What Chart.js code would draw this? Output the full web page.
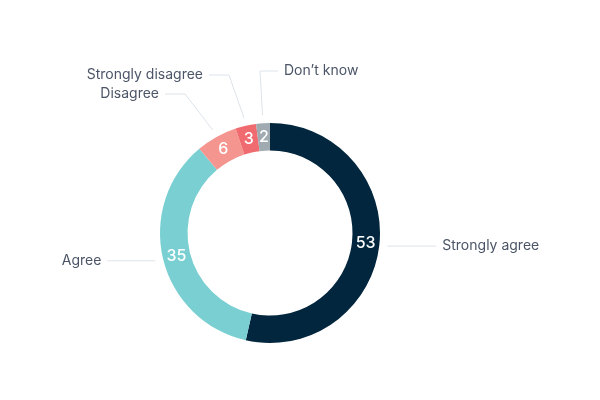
<!DOCTYPE html>
<html>
<head>
<meta charset="utf-8">
<script src="https://cdn.jsdelivr.net/npm/chart.js@4"></script>
<style>
  html, body { margin: 0; padding: 0; background: #ffffff; }
  #wrap { width: 600px; height: 400px; }
</style>
</head>
<body>
<div id="wrap"><canvas id="chartRespostas"></canvas></div>
<script>
const categorias = ['Strongly agree', 'Agree', 'Disagree', 'Strongly disagree', 'Don\u2019t know'];
const valores = [53, 35, 6, 3, 2];
const cores = ['#02263d', '#79cfd1', '#f4958f', '#ef6b6f', '#a0aab1'];

// Onde cada linha de chamada dobra (relativo ao centro) e para que lado segue
const chamadas = [
    { cotovelo: null, lado: 1, comprimento: 49 },
    { cotovelo: null, lado: -1, comprimento: 48 },
    { cotovelo: [-85, -139], lado: -1, comprimento: 20 },
    { cotovelo: [-41, -158], lado: -1, comprimento: 20 },
    { cotovelo: [-10, -162], lado: 1, comprimento: 18 }
];

const rotulosPlugin = {
    id: 'rotulos',
    afterDatasetsDraw(chart) {
        const ctx = chart.ctx;
        const meta = chart.getDatasetMeta(0);
        ctx.save();
        meta.data.forEach((arc, i) => {
            const p = arc.getProps(['x', 'y', 'startAngle', 'endAngle', 'innerRadius', 'outerRadius'], true);
            const meio = (p.startAngle + p.endAngle) / 2;
            const cos = Math.cos(meio), sin = Math.sin(meio);

            // valor dentro do anel
            const rm = (p.innerRadius + p.outerRadius) / 2;
            ctx.fillStyle = '#ffffff';
            ctx.font = '500 16px Inter, sans-serif';
            ctx.textAlign = 'center';
            ctx.textBaseline = 'middle';
            ctx.fillText(valores[i], p.x + rm * cos, p.y + rm * sin);

            // linha de chamada
            const c = chamadas[i];
            const x0 = p.x + (p.outerRadius + 8) * cos;
            const y0 = p.y + (p.outerRadius + 8) * sin;
            let x1 = x0, y1 = y0;
            if (c.cotovelo) {
                x1 = p.x + c.cotovelo[0];
                y1 = p.y + c.cotovelo[1];
            }
            const x2 = x1 + c.lado * c.comprimento;
            ctx.strokeStyle = '#dce3ea';
            ctx.lineWidth = 1;
            ctx.beginPath();
            ctx.moveTo(x0, y0);
            ctx.lineTo(x1, y1);
            ctx.lineTo(x2, y1);
            ctx.stroke();

            ctx.fillStyle = '#4b5567';
            ctx.font = '14px Inter, sans-serif';
            ctx.textAlign = c.lado > 0 ? 'left' : 'right';
            ctx.fillText(categorias[i], x2 + c.lado * 6, y1);
        });
        ctx.restore();
    }
};

new Chart(document.getElementById('chartRespostas'), {
    type: 'doughnut',
    data: {
        labels: categorias,
        datasets: [{
            data: valores,
            backgroundColor: cores,
            borderWidth: 0
        }]
    },
    options: {
        responsive: true,
        maintainAspectRatio: false,
        animation: false,
        cutout: '75%',
        layout: {
            padding: { top: 123, bottom: 57, left: 160, right: 220 }
        },
        plugins: {
            legend: { display: false },
            tooltip: { enabled: false }
        }
    },
    plugins: [rotulosPlugin]
});
</script>
</body>
</html>
